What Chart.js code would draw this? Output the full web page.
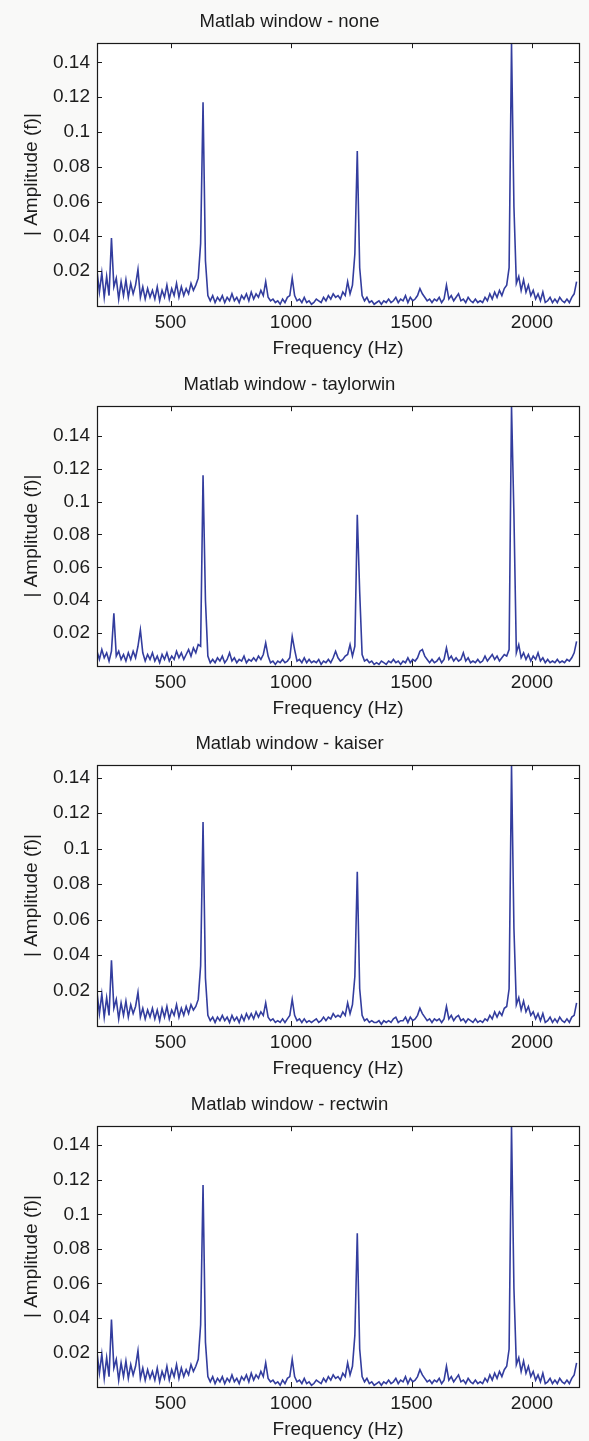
<!DOCTYPE html>
<html>
<head>
<meta charset="utf-8">
<title>Matlab window spectra</title>
<script src="https://cdn.jsdelivr.net/npm/chart.js@4.4.1/dist/chart.umd.min.js"></script>
<style>
  html, body { margin: 0; padding: 0; background: #f9f9f8; }
  #page { position: relative; width: 589px; height: 1441px; overflow: hidden; }
  .panel { position: absolute; left: 0; width: 589px; }
</style>
</head>
<body>
<div id="page"></div>
<script>
// === DATA ===

// frequency bins (Hz)
const freqHz = [
  195, 205, 215, 225, 235, 245, 255, 265, 275, 285,
  295, 305, 315, 325, 335, 345, 355, 365, 375, 385,
  395, 405, 415, 425, 435, 445, 455, 465, 475, 485,
  495, 505, 515, 525, 535, 545, 555, 565, 575, 585,
  595, 605, 615, 625, 635, 645, 655, 665, 675, 685,
  695, 705, 715, 725, 735, 745, 755, 765, 775, 785,
  795, 805, 815, 825, 835, 845, 855, 865, 875, 885,
  895, 905, 915, 925, 935, 945, 955, 965, 975, 985,
  995, 1005, 1015, 1025, 1035, 1045, 1055, 1065, 1075, 1085,
  1095, 1105, 1115, 1125, 1135, 1145, 1155, 1165, 1175, 1185,
  1195, 1205, 1215, 1225, 1235, 1245, 1255, 1265, 1275, 1285,
  1295, 1305, 1315, 1325, 1335, 1345, 1355, 1365, 1375, 1385,
  1395, 1405, 1415, 1425, 1435, 1445, 1455, 1465, 1475, 1485,
  1495, 1505, 1515, 1525, 1535, 1545, 1555, 1565, 1575, 1585,
  1595, 1605, 1615, 1625, 1635, 1645, 1655, 1665, 1675, 1685,
  1695, 1705, 1715, 1725, 1735, 1745, 1755, 1765, 1775, 1785,
  1795, 1805, 1815, 1825, 1835, 1845, 1855, 1865, 1875, 1885,
  1895, 1905, 1915, 1925, 1935, 1945, 1955, 1965, 1975, 1985,
  1995, 2005, 2015, 2025, 2035, 2045, 2055, 2065, 2075, 2085,
  2095, 2105, 2115, 2125, 2135, 2145, 2155, 2165, 2175, 2185
];

// |Amplitude(f)| - no window
const ampNone = [
  0.020, 0.008, 0.019, 0.005, 0.017, 0.006, 0.039, 0.011, 0.016, 0.004,
  0.014, 0.006, 0.015, 0.005, 0.013, 0.007, 0.012, 0.021, 0.005, 0.011,
  0.004, 0.010, 0.005, 0.009, 0.004, 0.011, 0.003, 0.009, 0.005, 0.012,
  0.004, 0.010, 0.006, 0.013, 0.005, 0.011, 0.006, 0.010, 0.007, 0.013,
  0.009, 0.012, 0.016, 0.036, 0.117, 0.026, 0.006, 0.003, 0.006, 0.002,
  0.005, 0.003, 0.006, 0.002, 0.005, 0.003, 0.007, 0.003, 0.005, 0.002,
  0.006, 0.004, 0.007, 0.003, 0.008, 0.004, 0.007, 0.005, 0.009, 0.006,
  0.014, 0.005, 0.003, 0.004, 0.002, 0.003, 0.001, 0.004, 0.002, 0.005,
  0.006, 0.016, 0.006, 0.003, 0.004, 0.002, 0.005, 0.002, 0.003, 0.001,
  0.002, 0.004, 0.003, 0.002, 0.005, 0.003, 0.006, 0.004, 0.007, 0.005,
  0.006, 0.004, 0.008, 0.006, 0.014, 0.007, 0.012, 0.030, 0.089, 0.022,
  0.006, 0.003, 0.005, 0.002, 0.003, 0.001, 0.002, 0.003, 0.001, 0.003,
  0.002, 0.004, 0.002, 0.003, 0.005, 0.002, 0.004, 0.003, 0.006, 0.002,
  0.005, 0.003, 0.004, 0.006, 0.010, 0.007, 0.005, 0.003, 0.004, 0.002,
  0.004, 0.003, 0.005, 0.002, 0.004, 0.012, 0.004, 0.006, 0.003, 0.005,
  0.007, 0.003, 0.004, 0.002, 0.005, 0.003, 0.002, 0.004, 0.002, 0.003,
  0.002, 0.005, 0.003, 0.007, 0.004, 0.008, 0.005, 0.009, 0.006, 0.010,
  0.012, 0.022, 0.151, 0.057, 0.013, 0.017, 0.009, 0.015, 0.008, 0.012,
  0.006, 0.009, 0.004, 0.007, 0.003, 0.008, 0.002, 0.003, 0.005, 0.002,
  0.004, 0.002, 0.005, 0.003, 0.002, 0.004, 0.002, 0.005, 0.007, 0.014
];

// |Amplitude(f)| - taylorwin
const ampTaylorwin = [
  0.009, 0.004, 0.010, 0.005, 0.008, 0.003, 0.009, 0.032, 0.006, 0.009,
  0.004, 0.007, 0.003, 0.008, 0.004, 0.009, 0.005, 0.012, 0.022, 0.008,
  0.003, 0.007, 0.004, 0.008, 0.003, 0.006, 0.002, 0.007, 0.004, 0.008,
  0.003, 0.006, 0.004, 0.009, 0.005, 0.008, 0.004, 0.007, 0.010, 0.006,
  0.011, 0.008, 0.013, 0.012, 0.116, 0.040, 0.006, 0.002, 0.004, 0.002,
  0.005, 0.003, 0.006, 0.002, 0.004, 0.008, 0.003, 0.005, 0.002, 0.004,
  0.003, 0.006, 0.002, 0.004, 0.003, 0.005, 0.003, 0.006, 0.004, 0.007,
  0.014, 0.006, 0.002, 0.003, 0.001, 0.003, 0.002, 0.004, 0.002, 0.003,
  0.005, 0.018, 0.010, 0.003, 0.004, 0.002, 0.005, 0.002, 0.004, 0.002,
  0.003, 0.002, 0.004, 0.001, 0.003, 0.002, 0.004, 0.002, 0.005, 0.009,
  0.005, 0.003, 0.004, 0.006, 0.007, 0.013, 0.006, 0.012, 0.092, 0.045,
  0.007, 0.003, 0.004, 0.002, 0.003, 0.001, 0.002, 0.001, 0.003, 0.002,
  0.001, 0.003, 0.002, 0.004, 0.002, 0.003, 0.001, 0.003, 0.002, 0.005,
  0.002, 0.004, 0.003, 0.005, 0.009, 0.010, 0.006, 0.004, 0.002, 0.004,
  0.002, 0.003, 0.005, 0.002, 0.004, 0.011, 0.004, 0.006, 0.003, 0.005,
  0.003, 0.004, 0.008, 0.003, 0.005, 0.002, 0.003, 0.002, 0.004, 0.002,
  0.003, 0.006, 0.003, 0.005, 0.007, 0.004, 0.006, 0.003, 0.005, 0.007,
  0.006, 0.010, 0.158, 0.092, 0.008, 0.013, 0.005, 0.008, 0.004, 0.007,
  0.003, 0.006, 0.004, 0.008, 0.003, 0.005, 0.002, 0.004, 0.002, 0.003,
  0.002, 0.004, 0.002, 0.003, 0.002, 0.004, 0.003, 0.005, 0.008, 0.015
];

// |Amplitude(f)| - kaiser
const ampKaiser = [
  0.019, 0.007, 0.018, 0.005, 0.016, 0.006, 0.037, 0.010, 0.015, 0.004,
  0.013, 0.006, 0.014, 0.005, 0.012, 0.007, 0.011, 0.019, 0.005, 0.010,
  0.004, 0.009, 0.005, 0.010, 0.004, 0.009, 0.003, 0.010, 0.005, 0.011,
  0.004, 0.009, 0.006, 0.012, 0.005, 0.010, 0.006, 0.011, 0.007, 0.012,
  0.009, 0.011, 0.015, 0.034, 0.115, 0.027, 0.006, 0.003, 0.005, 0.002,
  0.005, 0.003, 0.006, 0.003, 0.005, 0.002, 0.006, 0.003, 0.005, 0.002,
  0.006, 0.003, 0.007, 0.004, 0.007, 0.004, 0.008, 0.005, 0.008, 0.006,
  0.013, 0.005, 0.003, 0.004, 0.002, 0.003, 0.002, 0.004, 0.002, 0.004,
  0.006, 0.015, 0.006, 0.003, 0.004, 0.002, 0.004, 0.002, 0.003, 0.002,
  0.003, 0.004, 0.002, 0.003, 0.005, 0.003, 0.005, 0.004, 0.007, 0.005,
  0.006, 0.005, 0.008, 0.006, 0.013, 0.007, 0.012, 0.028, 0.087, 0.021,
  0.006, 0.003, 0.004, 0.002, 0.003, 0.002, 0.002, 0.003, 0.001, 0.003,
  0.002, 0.003, 0.002, 0.004, 0.005, 0.002, 0.003, 0.003, 0.005, 0.002,
  0.005, 0.003, 0.004, 0.006, 0.010, 0.007, 0.005, 0.003, 0.004, 0.002,
  0.004, 0.003, 0.004, 0.002, 0.004, 0.011, 0.004, 0.006, 0.003, 0.005,
  0.006, 0.003, 0.004, 0.002, 0.004, 0.003, 0.002, 0.004, 0.002, 0.003,
  0.002, 0.004, 0.003, 0.006, 0.004, 0.008, 0.005, 0.008, 0.006, 0.010,
  0.011, 0.021, 0.147, 0.055, 0.012, 0.016, 0.009, 0.014, 0.008, 0.011,
  0.006, 0.008, 0.004, 0.007, 0.003, 0.007, 0.002, 0.003, 0.005, 0.002,
  0.004, 0.002, 0.005, 0.003, 0.002, 0.004, 0.002, 0.005, 0.006, 0.013
];

// rectwin gives the same spectrum as no window
const ampRectwin = ampNone;

const xTicks = [500, 1000, 1500, 2000];
const yTicks = [0.02, 0.04, 0.06, 0.08, 0.1, 0.12, 0.14];

// === LAYOUT ===

const FONT = '"Liberation Sans", Arial, sans-serif';
const TEXT_COLOR = '#1c1c1c';
const LINE_COLOR = '#333d9e';

const panels = [
  { title: 'Matlab window - none',      amp: ampNone,      yMax: 0.151, top: 11,   height: 349 },
  { title: 'Matlab window - taylorwin', amp: ampTaylorwin, yMax: 0.158, top: 374,  height: 346 },
  { title: 'Matlab window - kaiser',    amp: ampKaiser,    yMax: 0.147, top: 733,  height: 347 },
  { title: 'Matlab window - rectwin',   amp: ampRectwin,   yMax: 0.151, top: 1094, height: 347 }
];

// Matlab style box: frame + inward ticks on all four sides
const matlabBox = {
  id: 'matlabBox',
  beforeDraw(chart) {
    const a = chart.chartArea;
    const ctx = chart.ctx;
    ctx.save();
    ctx.fillStyle = '#ffffff';
    ctx.fillRect(a.left, a.top, a.right - a.left, a.bottom - a.top);
    ctx.restore();
  },
  afterDraw(chart) {
    const a = chart.chartArea;
    const ctx = chart.ctx;
    const xs = chart.scales.x;
    const ys = chart.scales.y;
    const len = 5;
    ctx.save();
    ctx.strokeStyle = '#1a1a1a';
    ctx.lineWidth = 1;
    ctx.beginPath();
    xTicks.forEach(v => {
      const px = Math.round(xs.getPixelForValue(v)) + 0.5;
      ctx.moveTo(px, a.bottom); ctx.lineTo(px, a.bottom - len);
      ctx.moveTo(px, a.top); ctx.lineTo(px, a.top + len);
    });
    yTicks.forEach(v => {
      const py = Math.round(ys.getPixelForValue(v)) + 0.5;
      ctx.moveTo(a.left, py); ctx.lineTo(a.left + len, py);
      ctx.moveTo(a.right, py); ctx.lineTo(a.right - len, py);
    });
    ctx.stroke();
    ctx.lineWidth = 1.2;
    ctx.strokeRect(Math.round(a.left) + 0.5, Math.round(a.top) + 0.5,
      Math.round(a.right - a.left), Math.round(a.bottom - a.top));
    ctx.restore();
  }
};

function dessinerPanneau(p) {
  const wrap = document.createElement('div');
  wrap.className = 'panel';
  wrap.style.top = p.top + 'px';
  wrap.style.height = p.height + 'px';
  const canvas = document.createElement('canvas');
  canvas.width = 589;
  canvas.height = p.height;
  wrap.appendChild(canvas);
  document.getElementById('page').appendChild(wrap);

  const points = freqHz.map((f, i) => ({ x: f, y: p.amp[i] }));

  new Chart(canvas.getContext('2d'), {
    type: 'line',
    data: {
      datasets: [{
        data: points,
        borderColor: LINE_COLOR,
        borderWidth: 1.6,
        pointRadius: 0,
        tension: 0,
        fill: false
      }]
    },
    options: {
      responsive: false,
      animation: false,
      layout: { padding: { left: 0, right: 10, top: 0, bottom: 0 } },
      plugins: {
        legend: { display: false },
        tooltip: { enabled: false },
        title: {
          display: true,
          text: p.title,
          color: TEXT_COLOR,
          font: { family: FONT, size: 18.5, weight: 'normal' },
          padding: { top: 0, bottom: 10 }
        }
      },
      scales: {
        x: {
          type: 'linear',
          min: 195,
          max: 2195,
          grid: { display: false, drawTicks: false },
          border: { display: false },
          afterBuildTicks: scale => { scale.ticks = xTicks.map(v => ({ value: v })); },
          afterFit: scale => { scale.height = 54; },
          ticks: {
            color: TEXT_COLOR,
            font: { family: FONT, size: 19 },
            padding: 5,
            maxRotation: 0,
            callback: v => String(v)
          },
          title: {
            display: true,
            text: 'Frequency (Hz)',
            color: TEXT_COLOR,
            font: { family: FONT, size: 19 },
            padding: { top: 0, bottom: 0 }
          }
        },
        y: {
          min: 0,
          max: p.yMax,
          grid: { display: false, drawTicks: false },
          border: { display: false },
          afterBuildTicks: scale => { scale.ticks = yTicks.map(v => ({ value: v })); },
          afterFit: scale => { scale.width = 97; },
          ticks: {
            color: TEXT_COLOR,
            font: { family: FONT, size: 19 },
            padding: 7,
            callback: v => String(v)
          },
          title: {
            display: true,
            text: '| Amplitude (f)|',
            color: TEXT_COLOR,
            font: { family: FONT, size: 19 },
            padding: { top: 20, bottom: 0 }
          }
        }
      }
    },
    plugins: [matlabBox]
  });
}

panels.forEach(dessinerPanneau);
</script>
</body>
</html>
